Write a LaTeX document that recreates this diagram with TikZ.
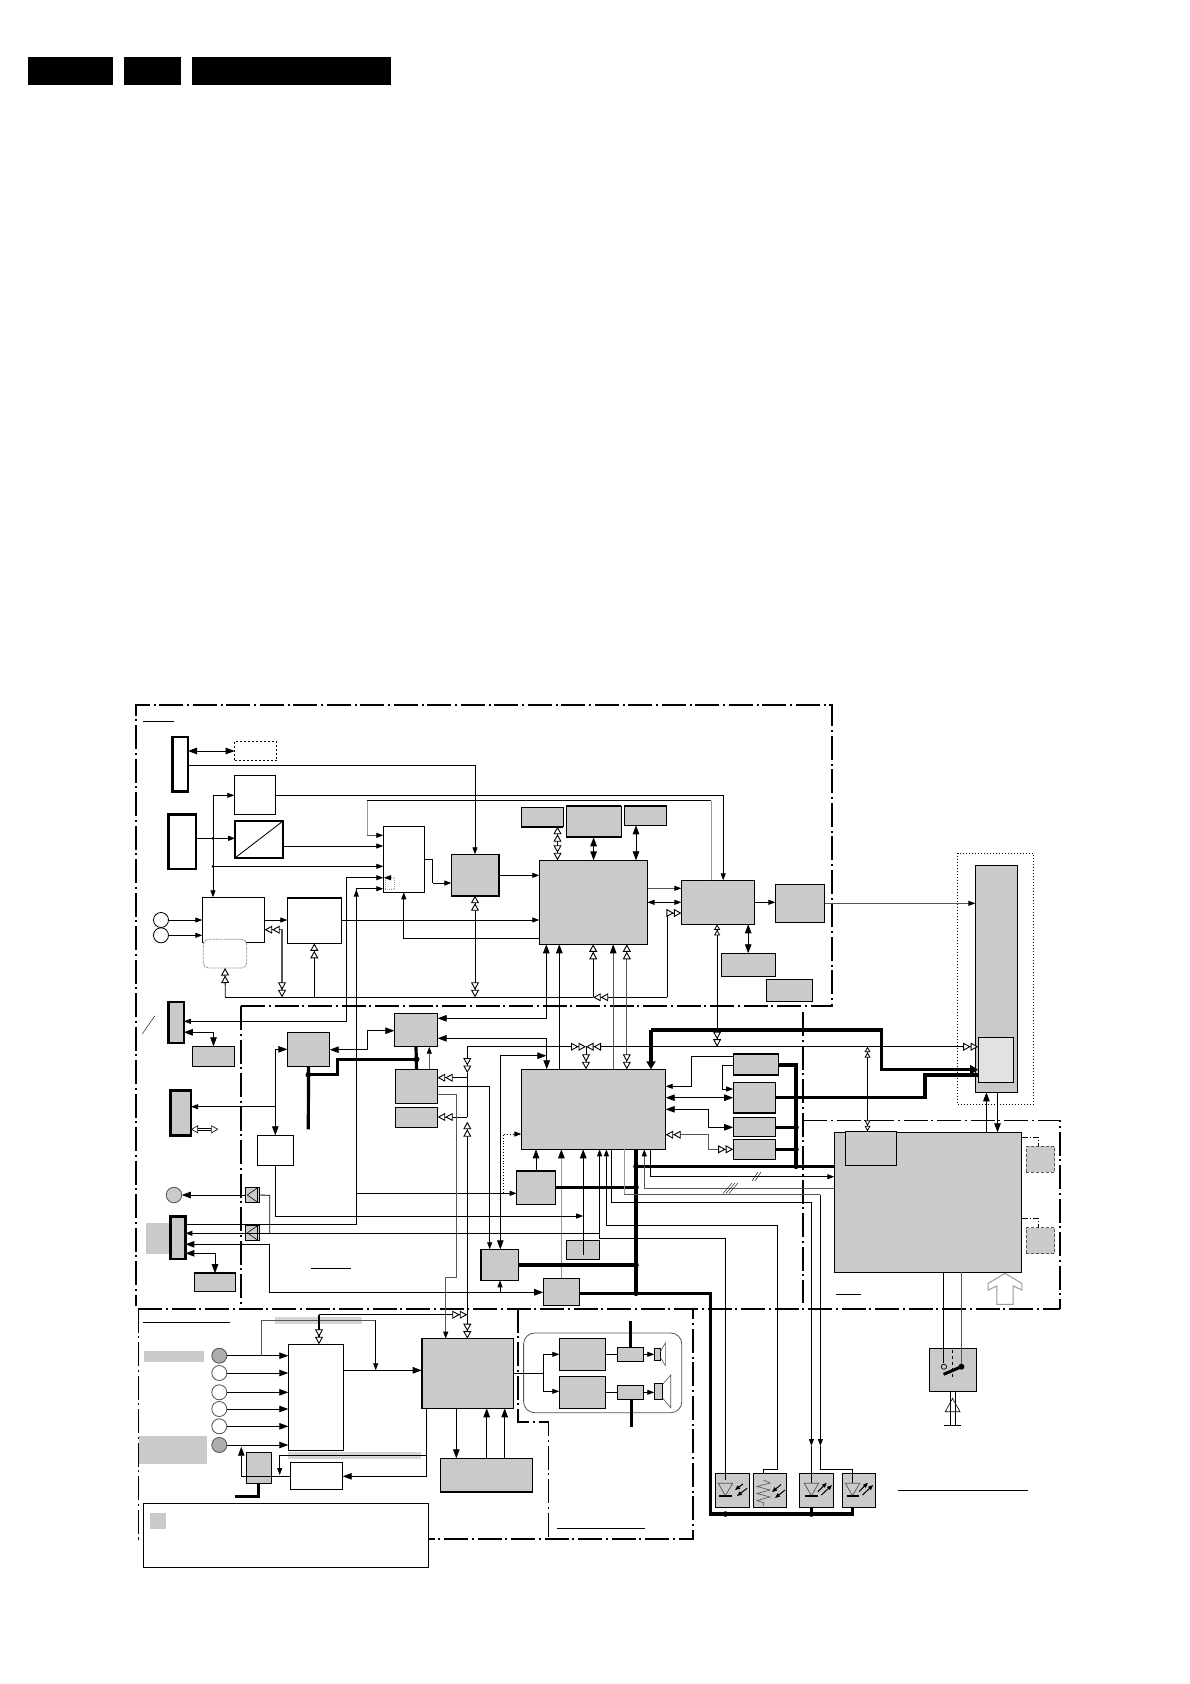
\documentclass[tikz,border=0pt]{standalone}
\usetikzlibrary{arrows.meta}
\definecolor{bxg}{HTML}{CACACA}
\definecolor{lg}{HTML}{9A9A9A}
\definecolor{dg}{HTML}{555555}
\newcommand\bx[6]{\pgfmathsetmacro\mybw{#4-#2}\pgfmathsetmacro\mybh{#5-#3}\node[anchor=north west,inner sep=0pt,outer sep=0pt,minimum width=\mybw pt,minimum height=\mybh pt,#6] (#1) at (#2,#3) {};}
\newcommand\dt[2]{\fill (#1,#2) circle (2.8pt);}
\newcommand\diode[1]{\begin{scope}[shift={(#1,0)}]
\draw[dg,line width=.7pt] (-7.2,1483.3) -- (7.2,1483.3) -- (0,1495.7) -- cycle;
\draw[line width=2pt] (-6,1495.7) -- (6.4,1495.7);
\end{scope}}
\newcommand\outarr[1]{\begin{scope}[shift={(#1,0)}]
\draw[smalltip] (6.5,1491.7) -- (15.4,1482.7);
\draw[smalltip] (10,1495) -- (20.6,1485);
\end{scope}}
\tikzset{
 Ta/.tip={Triangle[length=7pt,width=5pt,color=black]},
 Tb/.tip={Triangle[length=9pt,width=6.5pt,color=black]},
 Hh/.tip={Triangle[open,length=7.5pt,width=8pt,color=black,fill=white,line width=.9pt]Triangle[open,length=7.5pt,width=8pt,color=black,fill=white,line width=.9pt]},
 Hs/.tip={Triangle[open,length=5.5pt,width=6pt,color=black,fill=white,line width=.8pt]Triangle[open,length=5.5pt,width=6pt,color=black,fill=white,line width=.8pt]},
 ar/.style={-Ta},
 arr/.style={Ta-Ta},
 arB/.style={-Tb},
 arrB/.style={Tb-Tb},
 hh/.style={-Hh},
 hhh/.style={Hh-Hh},
 smalltip/.style={-{Triangle[length=5pt,width=4pt]},line width=1pt},
 gb/.style={fill=bxg,draw=black,line width=.9pt},
 wb/.style={fill=white,draw=black,line width=.9pt},
 gbt/.style={fill=bxg,draw=black,line width=2.6pt},
 wbt/.style={fill=white,draw=black,line width=2.6pt},
 fr/.style={line width=1.5pt,dash pattern=on 24pt off 3.5pt on 2pt off 4pt},
 bus/.style={line width=3.2pt},
 gline/.style={draw=lg,line width=1pt},
 dline/.style={draw=dg,line width=1.3pt},
 hdr/.style={fill=black,draw=none},
}
\begin{document}
\begin{tikzpicture}[x=1pt,y=-1pt,line width=.85pt]
\useasboundingbox (0,0) rectangle (1190,1684);
\fill[white] (0,0) rectangle (1190,1684);
% header bars
\bx{hA}{28}{57}{113}{85}{hdr}
\bx{hB}{124}{57}{181}{85}{hdr}
\bx{hC}{192}{57}{391}{85}{hdr}
% frames
\draw[fr,line width=1.8pt] (241,1006) -- (832,1006) -- (832,705) -- (136,705) -- (136,1306);
\draw[fr] (241,1006) -- (241,1308.7);
\draw[fr,line width=1.8pt] (138.3,1308.7) -- (1060,1308.7);
\draw[fr] (803,1012) -- (803,1303);
\draw[fr] (803,1120.7) -- (1060,1120.7) -- (1060,1308.7);
\draw[fr] (138.3,1308.7) -- (138.3,1539) -- (693,1539) -- (693,1308.7);
\draw[fr] (518,1308.7) -- (518,1422) -- (548.6,1422) -- (548.6,1539);
% rules
\coordinate (ra) at (143,721); \draw (ra) -- +(31,0);
\coordinate (rb) at (143.3,1322.3); \draw (rb) -- +(86.7,0);
\coordinate (rc) at (311.3,1268.3); \draw (rc) -- +(39.4,0);
\coordinate (rd) at (836,1294); \draw (rd) -- +(24.7,0);
\coordinate (re) at (557,1528); \draw (re) -- +(87.6,0);
\coordinate (rf) at (897.9,1490.3); \draw (rf) -- +(129.6,0);
% gray bars
\fill[bxg] (144,1351) rectangle (204,1362);
\fill[bxg] (139.3,1436) rectangle (207,1463.7);
\fill[bxg] (146,1222.7) rectangle (169,1254);
\fill[bxg!80!white] (275,1317.3) rectangle (362,1324);
\fill[bxg!80!white] (288.3,1452.3) rectangle (421,1459);
% dashed and dotted boxes
\bx{Dots}{957.9}{853.3}{1033.6}{1104.3}{draw=black,dash pattern=on 1.5pt off 1.5pt}
\bx{DotA}{234.7}{741.3}{276.7}{760.7}{draw=black,dash pattern=on 2pt off 2pt}
% top area boxes
\bx{ConA}{172.5}{737}{188}{791.7}{wbt}
\bx{W1}{234.3}{775.3}{275.7}{814.7}{wb}
\bx{W2}{235.2}{821.2}{282.8}{857.8}{wb,line width=1.5pt}
\bx{ConC}{168.2}{814.2}{196.1}{868.8}{wbt}
\bx{M}{383.3}{826.3}{424.3}{892.3}{wb}
\bx{SmD}{385}{877.3}{394.7}{889.3}{draw=lg,dash pattern=on 1pt off 1pt}
\bx{G1}{451.3}{854.3}{498.7}{895.7}{gb,line width=1.6pt}
\bx{BIG1}{539.3}{860.3}{647.5}{944.3}{gb}
\bx{W3}{202.3}{897.3}{264.7}{942.3}{wb}
\bx{Rnd}{203.3}{939.3}{246.7}{968}{fill=white,draw=lg,line width=.8pt,rounded corners=5pt,dash pattern=on 3pt off .8pt}
\bx{W4}{287.3}{897.7}{341.3}{943.3}{wb}
\bx{S1}{521.4}{807.3}{563.2}{826.7}{gb}
\bx{S2}{566.4}{806}{621.4}{837.3}{gb}
\bx{S3}{624.3}{806}{666.8}{825.3}{gb}
\bx{T}{681.4}{880.3}{754.6}{924.3}{gb}
\bx{U}{775.4}{884.3}{824.6}{922.3}{gb}
\bx{V}{721.4}{953.3}{775.7}{976.7}{gb}
\bx{X}{766.4}{979.3}{812.5}{1001.7}{gb}
\bx{L}{975.4}{865.3}{1017.5}{1092.3}{gb}
\bx{Inner}{978.2}{1037.3}{1013.6}{1082.3}{fill=bxg!55!white,draw=black}
\foreach \n/\a/\b in {W4/north west/north east,S1/south west/south east,S2/north west/north east,S2/south west/south east,S3/north west/north east,X/north east/south east}
  \draw[line width=1.8pt] (\n.\a) -- (\n.\b);
\draw (W2.south west) -- (W2.north east);
% circles top
\node[circle,draw=black,fill=white,inner sep=0pt,outer sep=0pt,minimum size=15pt] (C1) at (161,920) {};
\node[circle,draw=black,fill=white,inner sep=0pt,outer sep=0pt,minimum size=15pt] (C2) at (161,935.3) {};
% middle boxes
\bx{H1}{394.3}{1013.3}{437.7}{1046.7}{gb}
\bx{H2}{287.3}{1032.3}{329.7}{1066.7}{gb}
\bx{H3}{395.3}{1069.3}{437.7}{1103.7}{gb}
\bx{H4}{395.3}{1107.3}{437.7}{1127.3}{gb}
\bx{ConD}{168.2}{1002}{183.8}{1042.8}{gbt}
\bx{D1}{192.3}{1046.3}{234.7}{1066.7}{gb}
\bx{ConE1}{170.3}{1090.3}{191}{1135.7}{gbt}
\bx{W5}{257.3}{1135.3}{293.3}{1165.3}{wb}
\bx{BIG2}{521.4}{1069.3}{665.7}{1149.3}{gb}
\bx{K}{516.7}{1170.7}{555.3}{1204.3}{gb}
\bx{J}{480.7}{1249.3}{518.7}{1280.3}{gb}
\bx{P}{566.4}{1240.3}{599.3}{1259.3}{gb}
\bx{Q}{543.2}{1278.3}{579.6}{1305.7}{gb}
\bx{Tri1}{245.3}{1187.3}{259.3}{1202.7}{gb}
\bx{Tri2}{245.3}{1225}{259.3}{1240.7}{gb}
\bx{ConE2}{170.3}{1216.3}{185.4}{1259}{gbt}
\bx{E3}{194.4}{1273.2}{235.6}{1291.5}{gb,line width=1.5pt}
\bx{b1}{733.2}{1053.7}{778.2}{1075}{gb}
\bx{b2}{733.2}{1082.3}{775.7}{1113}{gb}
\bx{b3}{733.2}{1117.3}{775.7}{1136.3}{gb}
\bx{b4}{733.2}{1139.3}{775.7}{1159.5}{gb}
\bx{R}{834.3}{1132.3}{1021.8}{1272.3}{gb}
\bx{R1}{845.4}{1131.3}{896.4}{1165.3}{gb}
\bx{DA}{1026.4}{1146.3}{1054.6}{1172.3}{fill=bxg,draw=dg,dash pattern=on 3pt off 2pt,line width=.7pt}
\bx{DB}{1026.4}{1227.7}{1054.6}{1253.7}{fill=bxg,draw=dg,dash pattern=on 3pt off 2pt,line width=.7pt}
\node[circle,fill=bxg,draw=dg,inner sep=0pt,outer sep=0pt,minimum size=15.5pt] (CG) at (174,1195) {};
\foreach \n/\a/\b in {b1/north west/north east,b1/south west/south east,b2/south west/south east,K/north west/north east,J/north west/north east,J/north west/south west}
  \draw[line width=1.6pt] (\n.\a) -- (\n.\b);
\foreach \n in {Tri1,Tri2} {
  \draw[line width=.6pt] (\n.east) ++(-2,-7) -- ++(-10,7) -- ++(10,7);
  \draw[line width=.6pt] (\n.east) ++(-2,-7) -- ++(0,14);
}
% bottom boxes
\bx{N}{288.3}{1344.3}{343.3}{1450.3}{wb}
\bx{A1}{421.7}{1338.7}{513.7}{1408.3}{gb}
\bx{W6}{290.3}{1462.3}{342.7}{1489.3}{wb}
\bx{Y}{246.7}{1452.7}{271.7}{1483.3}{gb}
\bx{Z}{440.7}{1458.3}{532.7}{1492}{gb}
\draw[line width=1.8pt] (A1.north west) -- (A1.south west);
\draw[line width=1.8pt] (Z.south west) -- (Z.south east);
\foreach \n/\y in {CB1/1355.7,CB6/1445} \node[circle,fill=bxg!85!black,draw=dg,inner sep=0pt,outer sep=0pt,minimum size=15pt] (\n) at (219.3,\y) {};
\foreach \n/\y in {CB2/1373,CB3/1392.3,CB4/1409,CB5/1426.3} \node[circle,fill=white,draw=dg,inner sep=0pt,outer sep=0pt,minimum size=15pt] (\n) at (219.3,\y) {};
\bx{Note}{143.3}{1503.3}{428.7}{1567.3}{wb}
\bx{NoteK}{150}{1513}{166}{1529}{fill=bxg,draw=none}
\bx{Group}{523.6}{1333}{681.8}{1412.7}{draw=dg,line width=.8pt,rounded corners=11pt}
\bx{Aa}{559.3}{1338.3}{605.7}{1370.3}{gb}
\bx{Ab}{559.3}{1376.3}{605.7}{1408.3}{gb}
\bx{Pa}{617.5}{1347.3}{643.6}{1361.7}{gb}
\bx{Pb}{617.5}{1385.3}{643.6}{1399.3}{gb}
\bx{Sa}{654.3}{1348.3}{660.4}{1360.7}{gb}
\bx{Sb}{654.3}{1383.3}{662.9}{1399.3}{gb}
\draw[dg,line width=.6pt] (660.4,1351.7) -- (665.4,1342.7) -- (665.4,1365.7) -- (660.4,1357.3);
\draw[dg,line width=.6pt] (662.9,1384) -- (670.7,1375) -- (670.7,1407.7) -- (662.9,1398.3);
\bx{Sw}{929.3}{1348.3}{976.8}{1391.3}{gb}
\bx{LED1}{715.4}{1473.3}{749.6}{1507.7}{gb}
\bx{Res}{753.2}{1473.3}{786.8}{1507.7}{gb}
\bx{LED3}{799.3}{1473.3}{833.6}{1507.7}{gb}
\bx{LED4}{842.5}{1473.3}{875.7}{1507.7}{gb}
% ---- top connectors
\draw[arrB] (ConA.east|-0,751) -- (DotA.west|-0,751);
\draw[ar] (ConA.east|-0,765.3) -| (G1.north);
\coordinate (j1) at (213,838.3); \coordinate (j2) at (213,866.3);
\draw[ar] (j1) |- (W1.west|-0,795.3);
\draw[ar] (j1) -- (W3.north-|j1);
\draw[ar] (ConC.east|-j1) -- (W2.west|-j1);
\draw[ar] (j2) -- (M.west|-j2);
\fill (213,838.3) circle (1.5pt); \fill (213,866.3) circle (1.5pt);
\draw[ar] (W1.east|-0,795.3) -| (723.2,0|-T.north);
\draw[gline] (711.4,0|-T.north) -- (711.4,800.7);
\draw (711.4,800.7) -- (367.3,800.7);
\draw[gline] (367.3,800.7) -- (367.3,835.3);
\draw[ar,draw=dg] (367.3,835.3) -- (M.west|-0,835.3);
\draw[ar] (W2.east|-0,846) -- (M.west|-0,846);
\coordinate (c3) at (346.7,950);
\draw[ar] (c3) |- (M.west|-0,877.7);
\draw[ar] (c3) |- (ConD.east|-0,1021.3);
\draw[ar] (390,877.7) -- (384,877.7);
\coordinate (c4) at (356.3,1193.3);
\draw[ar] (c4) |- (M.west|-0,888.7);
\draw[ar] (356.3,900) -- (356.3,889.5);
\draw (ConE2.east|-0,1224.3) -| (c4);
\draw[ar] (c4) -- (K.west|-c4);
\draw (M.east|-0,859.3) -- (432.7,859.3) -- (432.7,883);
\draw[ar] (432.7,883) -- (G1.west|-0,883);
\draw[ar] (BIG1.west|-0,938.3) -| (M.south);
\draw[ar] (G1.east|-0,875.3) -- (BIG1.west|-0,875.3);
\draw[hhh] (G1.south) -- (G1.south|-0,997.3);
\draw[ar] (C1.east) -- (W3.west|-C1);
\draw[ar] (C2.east) -- (W3.west|-C2);
\draw[ar] (W3.east|-0,920) -- (W4.west|-0,920);
\draw[ar] (W4.east|-0,920) -- (BIG1.west|-0,920);
\coordinate (busL) at (225.3,997.3); \coordinate (busR) at (667.1,997.3); \coordinate (busM) at (593.2,997.3);
\draw (busL) -- (busM);
\draw[hh] (busL) -- (Rnd.south);
\draw[hh] (busR) |- (T.west|-0,913);
\draw[hh] (busR) -- (busM);
\draw[hh] (busM) -- (BIG1.south-|busM);
\draw[hhh,dline] (W3.east|-0,929.7) -| (282,997.3);
\draw[hh] (W4.south|-busL) -- (W4.south);
\draw[arrB] (H1.east|-0,1018.3) -| (546.3,0|-BIG1.south);
\draw[arB] (BIG2.north-|559.3,0) -- (BIG1.south-|559.3,0);
\draw[arB,draw=dg] (BIG2.north-|613.2,0) -- (BIG1.south-|613.2,0);
\draw[hhh,dline] (BIG2.north-|626.8,0) -- (BIG1.south-|626.8,0);
\draw[hhh] (S1.south-|557.5,0) -- (BIG1.north-|557.5,0);
\draw[arrB,line width=1.2pt] (S2.south-|593.6,0) -- (BIG1.north-|593.6,0);
\draw[arrB] (S3.south-|636,0) -- (BIG1.north-|636,0);
\draw[ar,draw=dg] (BIG1.east|-0,888.3) -- (T.west|-0,888.3);
\draw[arr] (BIG1.east|-0,902.3) -- (T.west|-0,902.3);
\draw[ar] (T.east|-0,902.3) -- (U.west|-0,902.3);
\draw[ar,draw=dg] (U.east|-0,903.3) -- (L.west|-0,903.3);
\draw[{Hs}-{Hh}] (T.south-|717.1,0) -- (717.1,1046.7);
\draw[arrB] (T.south-|748.2,0) -- (V.north-|748.2,0);
% bus y=1046.7
\coordinate (bs) at (467.3,1046.7); \coordinate (bc) at (586,1046.7);
\draw[hh] (bs) -- (bc);
\draw[hhh] (bc) -- (Inner.west|-bs);
\draw[hh] (bc) -- (BIG2.north-|bc);
\draw[{Hs}-{Hs}] (867.5,1046.7) -- (R1.north-|867.5,0);
\draw[hh] (bs) -- (467.3,1073);
\draw (467.3,1073) -- (467.3,1117);
\draw[hh] (467.3,1077.7) -- (H3.east|-0,1077.7);
\draw[hh] (467.3,1117) -- (H4.east|-0,1117);
\draw[hhh] (467.3,1121.7) -- (467.3,0|-A1.north);
\draw[ar] (H3.east|-0,1086.7) -| (489.7,0|-J.north);
\draw[ar,draw=dg] (H3.east|-0,1094.7) -- (456.7,1094.7) -- (456.7,1277.3) -- (445.7,1277.3) -- (445.7,0|-A1.north);
\draw[arrB] (500.3,0|-J.north) |- (546.3,1055.7);
\draw[arrB] (H1.east|-0,1038.3) -| (546.7,0|-BIG2.north);
\draw[ar,dotted] (503.3,1192.7) |- (BIG2.west|-0,1134);
\draw[arB] (K.north-|536,0) -- (BIG2.south-|536,0);
\draw[arB,gline] (Q.north) -- (BIG2.south-|561.4,0);
\draw[arB] (583.2,1255) -- (BIG2.south-|583.2,0);
\draw[ar] (W5.south) |- (583.2,1216);
\draw[arrB] (W5.north) |- (H2.west|-0,1049.3);
\draw[ar] (275.3,1106.7) -- (ConE1.east|-0,1106.7);
\draw[arrB] (H2.east|-0,1049.7) -- (367.3,1049.7) |- (H1.west|-0,1030.7);
\draw[bus] (H2.south) -- (308.3,1129.3);
\draw[bus] (308.3,1074.7) -- (337.3,1074.7) -- (337.3,1059.3) -- (416.7,1059.3);
\draw[bus] (H1.south) -- (H3.north);
\dt{416.7}{1059.3}\dt{308.3}{1074.7}
\draw[ar,draw=dg] (H3.north-|429.3,0) -- (H1.south-|429.3,0);
% double outline arrow on E1
\draw[{Triangle[open,length=7pt,width=8pt,fill=white]}-{Triangle[open,length=7pt,width=8pt,fill=white]},double,double distance=1.5pt,line width=.6pt] (ConE1.east|-0,1129.3) -- (218.3,1129.3);
\draw[thin] (142.3,1033.7) -- (155,1015.7);
% tri boxes
\draw[arB] (Tri1.west|-CG) -- (CG.east);
\draw (Tri1.east|-CG) -- (269.7,1195.3) -- (269.7,1233.3);
\draw (241,1195) -- (Tri1.west|-CG);
% thick buses
\coordinate (bx) at (636,1293.3);
\draw[bus] (BIG2.south-|636,0) -- (bx);
\draw[bus] (K.east|-0,1187.3) -- (636,1187.3);
\draw[bus] (J.east|-0,1265) -- (636,1265);
\draw[bus] (Q.east|-bx) -- (710.7,1293.3) -- (710.7,1514) -- (852.5,1514) -- (LED4.south-|852.5,0);
\draw[bus] (636,1166.3) -- (R.west|-0,1166.3);
\draw[bus] (b1.east|-0,1065) -- (796,1065) -- (796,1166.3);
\draw[bus] (b3.east|-0,1127.3) -- (796,1127.3);
\draw[bus] (b4.east|-0,1149.3) -- (796,1149.3);
\draw[bus] (b2.east|-0,1097.3) -- (925,1097.3) -- (925,1075) -- (Inner.west|-0,1075);
\draw[bus,-{Triangle[length=8pt,width=9pt]}] (651,1030) -- (BIG2.north-|651,0);
\draw[bus,-{Triangle[length=8pt,width=9pt]}] (651,1030) -- (881.4,1030) -- (881.4,1069.7) -- (Inner.west|-0,1069.7);
\foreach \x/\y in {636/1166.3,636/1187.3,636/1265,636/1293.3,796/1127.3,796/1149.3,796/1166.3} {\dt{\x}{\y}}
\draw[bus] (725.4,1507.7) -- (LED1.south-|725.4,0);
\draw[bus] (LED3.south-|811.4,0) -- (811.4,1514);
\dt{725.4}{1514}\dt{811.4}{1514}
% BIG2 / R
\draw[ar] (b1.west|-0,1056.3) -- (691.8,1056.3) |- (BIG2.east|-0,1086.3);
\draw[ar] (b1.west|-0,1065.3) -- (722.5,1065.3) |- (b2.west|-0,1089);
\draw[arrB] (BIG2.east|-0,1097.7) -- (b2.west|-0,1097.7);
\draw[arrB] (BIG2.east|-0,1109.3) -| (708.6,1127.3) -- (b3.west|-0,1127.3);
\draw[hhh,dline] (BIG2.east|-0,1134.7) -| (708.2,1149.3) -- (b4.west|-0,1149.3);
\draw[arB] (R.north-|986.4,0) -- (L.south-|986.4,0);
\draw[arB] (L.south-|997.5,0) -- (R.north-|997.5,0);
\draw[thin,dash pattern=on 6pt off 2pt on 1pt off 2pt] (R.east|-0,1137.3) -| (DA.north-|1038.6,0);
\draw[thin,dash pattern=on 6pt off 2pt on 1pt off 2pt] (R.east|-0,1218.3) -| (DB.north-|1038.6,0);
\draw[lg,line width=1pt] (1005,1273.3) -- (1021.8,1283.3) -- (1021.8,1290) -- (1013.2,1286) -- (1013.2,1304.3) -- (996.8,1304.3) -- (996.8,1286) -- (988.2,1290) -- (988.2,1283.3) -- cycle;
% bottom-of-BIG2 lines
\draw[ar] (BIG2.south-|650.7,0) |- (R.west|-0,1176.7);
\draw[ar,draw=dg] (R.west|-0,1188.7) -| (644.3,0|-BIG2.south);
\draw[thin] (752,1181) -- (758,1172); \draw[thin] (755,1181) -- (761,1172);
\draw[thin] (723,1193.5) -- (732,1183); \draw[thin] (726,1193.5) -- (735,1183); \draw[thin] (729,1193.5) -- (738,1183);
\draw[ar] (725.4,1480) -- (725.4,1238.3) -- (599.6,1238.3) -- (BIG2.south-|599.6,0);
\draw[ar] (599.6,1233.3) -- (ConE2.east|-0,1233.3);
\draw[ar] (Res.north-|763.6,0) -- (763.6,1469.3) -- (777.5,1469.3) -- (777.5,1225.3) -- (606.4,1225.3) -- (BIG2.south-|606.4,0);
\draw[ar] (BIG2.south-|611.4,0) |- (811.4,1202.3) -- (811.4,1446);
\draw (811.4,1446) -- (811.4,1483);
\draw[gline] (BIG2.south-|624.3,0) -- (624.3,1194.7);
\draw[dg] (624.3,1194.7) -- (820.4,1194.7);
\draw[ar] (820.4,1194.7) -- (820.4,1446);
\draw (820.4,1446) -- (820.4,1469.3) -- (852.5,1469.3) -- (852.5,1483);
\draw[arrB] (ConE2.east|-0,1244.3) -| (269.7,1292.3) -- (Q.west|-0,1292.3);
\draw[arrB] (ConE2.east|-0,1253.3) -| (E3.north);
\draw[arrB] (ConD.east|-0,1032.3) -| (D1.north);
\draw[ar] (500,1293.3) -- (J.south-|500,0);
% lower area
\foreach \n in {CB1,CB2,CB3,CB4,CB5,CB6} \draw[arB] (\n.east) -- (N.west|-\n);
\draw[dg] (261.7,1355.7) |- (375.7,1320.3);
\draw[ar] (375.7,1320.3) -- (375.7,1370.3);
\draw[arB] (N.east|-0,1370.3) -- (A1.west|-0,1370.3);
\draw[hh] (319,1314.7) -- (467.3,1314.7);
\draw[hh,line width=1.2pt] (319,1314.7) -- (319,0|-N.north);
\draw[arB] (426.7,0|-A1.south) |- (W6.east|-0,1476.3);
\draw[ar] (426.7,1455) -| (279.7,1475);
\draw[arB] (W6.west|-0,1476.3) -| (241.3,1446.7);
\draw[bus] (258.3,1483.3) -- (258.3,1496.3) -- (235,1496.3);
\draw[arB] (A1.south-|456.3,0) -- (Z.north-|456.3,0);
\draw[arB] (Z.north-|486.7,0) -- (A1.south-|486.7,0);
\draw[arB] (Z.north-|504.7,0) -- (A1.south-|504.7,0);
% speakers
\coordinate (ag) at (543.2,1373.7);
\draw (A1.east|-ag) -- (ag);
\draw[ar] (ag) |- (Aa.west|-0,1354.3);
\draw[ar] (ag) |- (Ab.west|-0,1391.3);
\draw (Aa.east|-0,1354.3) -- (Pa.west|-0,1354.3);
\draw (Ab.east|-0,1392.3) -- (Pb.west|-0,1392.3);
\draw[ar] (Pa.east|-0,1354.3) -- (Sa.west|-0,1354.3);
\draw[ar] (Pb.east|-0,1392.3) -- (Sb.west|-0,1392.3);
\draw[bus] (630.4,1321) -- (Pa.north-|630.4,0);
\draw[bus] (Pb.south-|631.4,0) -- (631.4,1426.7);
% switch
\draw (R.south-|943.6,0) -- (943.6,1363.3);
\draw[dg] (R.south-|961.4,0) -- (961.4,1366.7);
\draw[fill=bxg,line width=.7pt] (943.9,1366.7) circle (2.6pt);
\fill (961.4,1366.7) circle (3pt);
\draw[line width=3pt] (943.6,1374.3) -- (961.4,1366.7);
\draw[line width=.5pt,dashed] (952.5,1350) -- (952.5,1378);
\draw[line width=.6pt] (Sw.south-|950.7,0) -- (950.7,1425.3);
\draw[line width=.6pt] (Sw.south-|955,0) -- (955,1425.3);
\draw[line width=.6pt] (952.5,1398.3) -- (960,1411.7) -- (945.4,1411.7) -- cycle;
\draw[line width=.7pt] (943.9,1425.3) -- (960.7,1425.3);
% LEDs
\diode{725.4}\diode{811.4}\diode{852.5}
\outarr{811.4}\outarr{852.5}
\draw[smalltip] (742.9,1484) -- (735,1490);
\draw[smalltip] (747,1488.3) -- (737,1496);
\draw[dg,line width=.6pt] (763.6,1480) -- (770,1483) -- (757,1486.5) -- (770,1490) -- (757,1493.5) -- (770,1497) -- (757,1500.5) -- (764,1503) -- (763,1506);
\draw[smalltip] (781,1484.5) -- (772,1492);
\draw[smalltip] (785,1490) -- (775,1498);
\end{tikzpicture}
\end{document}
